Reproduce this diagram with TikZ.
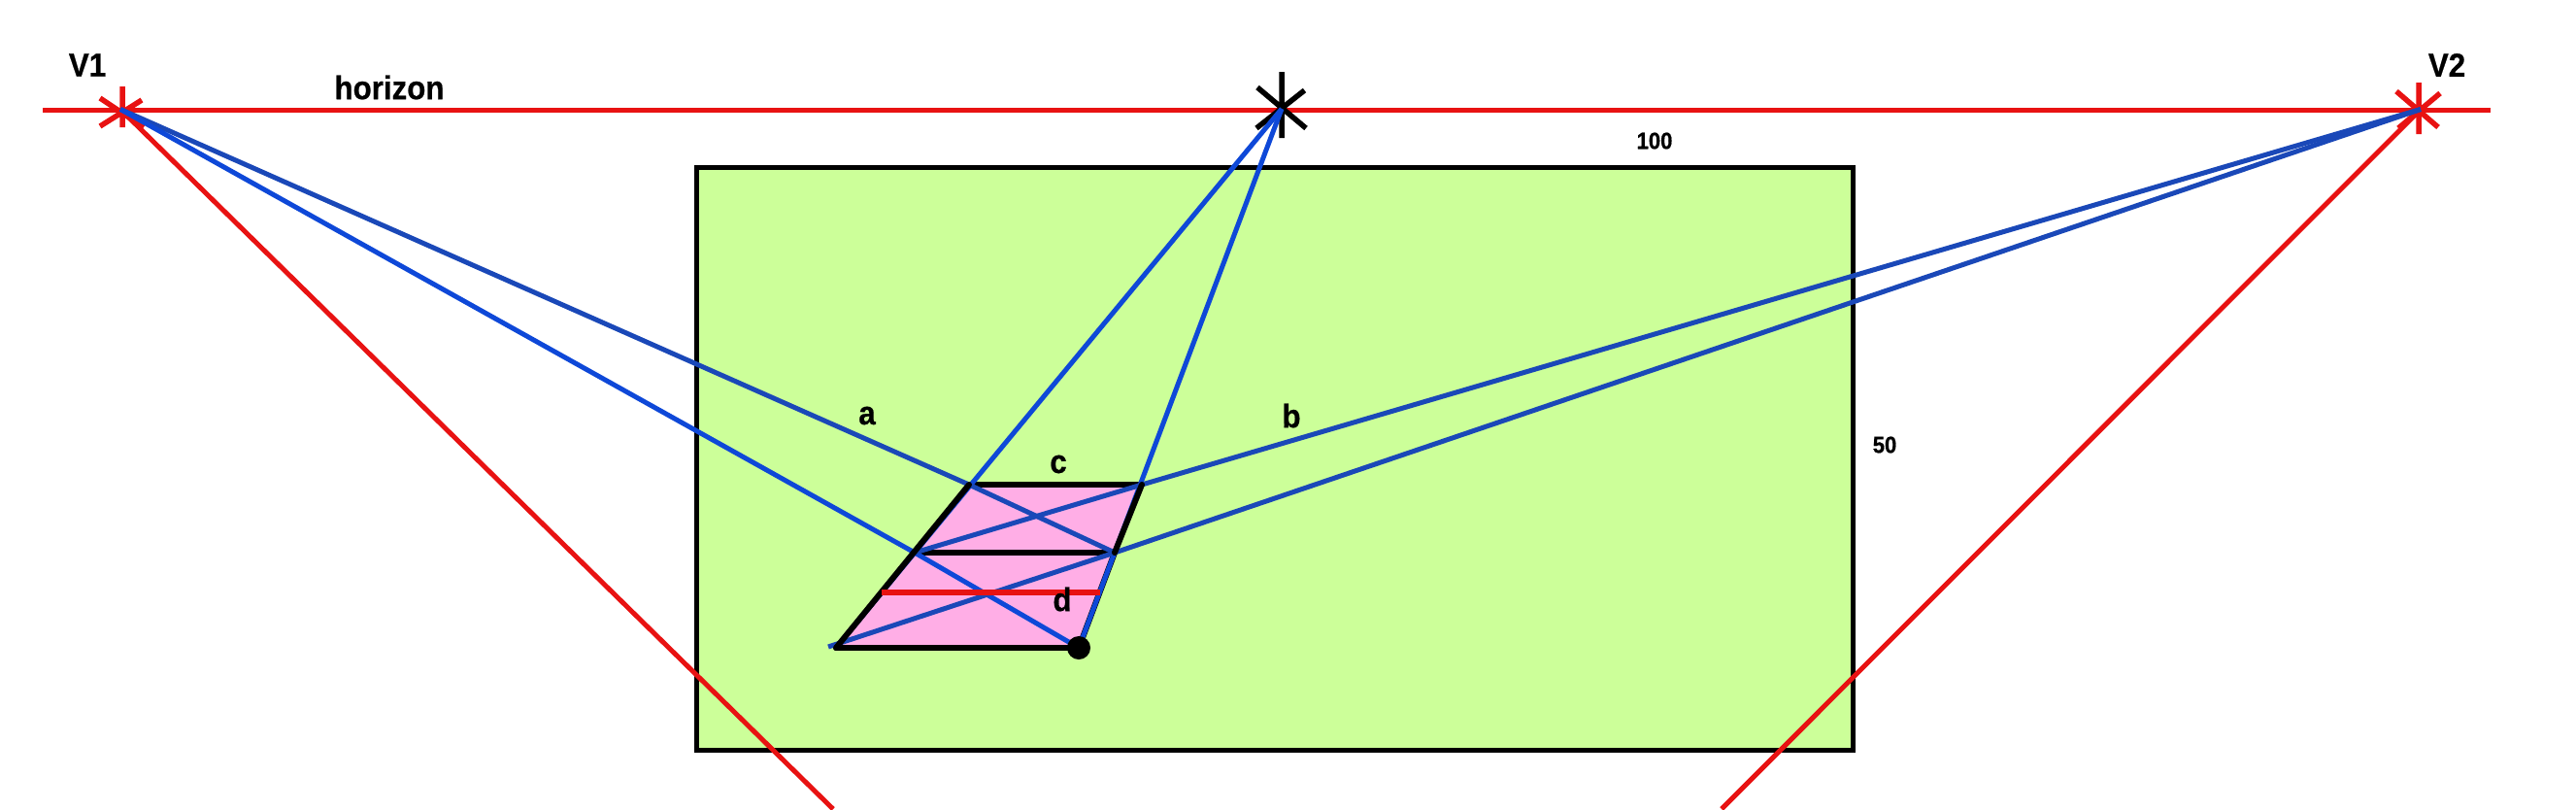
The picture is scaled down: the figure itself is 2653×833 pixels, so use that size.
\documentclass[tikz,border=0pt]{standalone}
\usepackage{fontspec}
\setmainfont{Liberation Sans}[FakeStretch=0.92,BoldFeatures={FakeBold=0.6}]
\definecolor{grass}{HTML}{CCFF99}
\definecolor{plot}{HTML}{FFAEE6}
\definecolor{hred}{HTML}{E81212}
\definecolor{vblue}{HTML}{0E48D8}
\definecolor{dblue}{HTML}{1A48B8}
\tikzset{
  big/.style={inner sep=0pt,font=\fontsize{34}{34}\selectfont\bfseries},
  small/.style={inner sep=0pt,font=\fontsize{24}{24}\selectfont\bfseries},
  redline/.style={draw=hred,line width=5pt},
  redstar/.style={draw=hred,line width=5.5pt},
  blackstar/.style={draw=black,line width=5.5pt},
  blueline/.style={draw=vblue,line width=5pt},
  darkblueline/.style={draw=dblue,line width=5pt},
  edge/.style={draw=black,line width=6pt,line cap=round}
}
\begin{document}
\begin{tikzpicture}[x=1pt,y=-1pt]
\useasboundingbox (0,0) rectangle (2653,833);
\fill[white] (0,0) rectangle (2653,833);
% named points
\coordinate (V1) at (124,112.5);
\coordinate (V2) at (2493,112.5);
\coordinate (V3) at (1320,112);
\coordinate (HL) at (44,113);
\coordinate (HR) at (2565,113);
\coordinate (R1) at (858,833);
\coordinate (R2) at (1773,833);
\coordinate (TL) at (998,499);
\coordinate (TR) at (1176,499);
\coordinate (ML) at (942,569);
\coordinate (MR) at (1148,569);
\coordinate (BL) at (861,667);
\coordinate (BR) at (1111,667);
\coordinate (BX) at (853,666);
\coordinate (DL) at (908,610);
\coordinate (DR) at (1133,610);
% ground
\filldraw[fill=grass,draw=black,line width=5pt,line join=miter] (717,172) rectangle (1908,772);
% plot
\fill[plot] (TL) -- (TR) -- (BR) -- (BL) -- cycle;
% horizon and stars
\draw[redline] (HL) -- (HR);
\draw[redstar] (126,89) -- (126,131) (103,101) -- (148,131) (146,103) -- (103,130);
\draw[redstar] (2491,85) -- (2491,138) (2468,94) -- (2511,131) (2513,96) -- (2470,132);
\draw[blackstar] (1320,74) -- (1320,142) (1295,90) -- (1345,132) (1343.5,93) -- (1294,132);
% red rays
\draw[redline] (V1) -- (R1);
\draw[redline] (V2) -- (R2);
% plot edges
\draw[edge] (BL) -- (BR);
\draw[edge] (TL) -- (TR);
\draw[edge] (ML) -- (MR);
\draw[edge] (MR) -- (BR);
% blue rays
\draw[blueline] (V3) -- (BL);
\draw[blueline] (V3) -- (BR);
\draw[darkblueline] (V1) -- (TL) -- (MR);
\draw[blueline] (V1) -- (ML) -- (BR);
\draw[darkblueline] (V2) -- (TR) -- (ML);
\draw[darkblueline] (V2) -- (MR) -- (BX);
% edges over the rays
\draw[edge] (TL) -- (BL);
\draw[edge] (TR) -- (MR);
\draw[redline,line width=6pt] (DL) -- (DR);
\fill[black] (BR) circle (12);
% labels
\node[big] (lv1) at (90,67) {V1};
\node[big] (lh) at (401,90) {horizon};
\node[big] (lv2) at (2520,67) {V2};
\node[small] (l100) at (1704,145) {100};
\node[small] (l50) at (1941,458) {50};
\node[big] (la) at (893,428) {a};
\node[big] (lb) at (1330,428) {b};
\node[big] (lc) at (1090,478) {c};
\node[big] (ld) at (1094,617) {d};
\end{tikzpicture}
\end{document}
